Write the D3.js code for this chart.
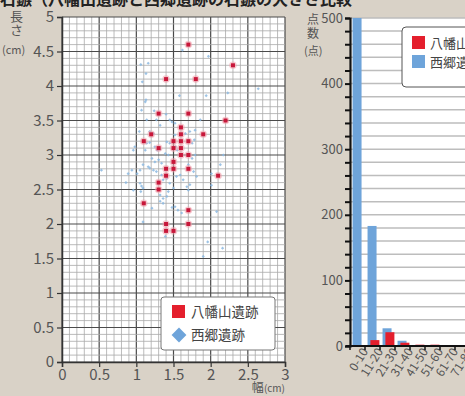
<!DOCTYPE html>
<html><head><meta charset="utf-8">
<script src="https://cdn.jsdelivr.net/npm/d3@7"></script>
<style>
body{margin:0;background:#d9d2c7;}
svg{display:block;}
text{font-family:"Noto Sans CJK JP","Noto Sans",sans-serif;}
</style></head>
<body>
<svg id="c" width="465" height="396"></svg>
<script>
// ---------- data ----------
const titleText = "石鏃（八幡山遺跡と西郷遺跡の石鏃の大きさ比較";
const seriesNames = ["八幡山遺跡", "西郷遺跡"];
const scatterXTicks = [0, 0.5, 1, 1.5, 2, 2.5, 3];
const scatterYTicks = [0, 0.5, 1, 1.5, 2, 2.5, 3, 3.5, 4, 4.5, 5];
// [width cm, length cm]
const hachimanPoints = [
  [1.7,4.6],[2.3,4.3],[1.4,4.1],[1.8,4.1],[1.3,3.6],[1.7,3.6],[2.2,3.5],[1.6,3.4],
  [1.2,3.3],[1.6,3.3],[1.9,3.3],[1.1,3.2],[1.5,3.2],[1.6,3.2],[1.7,3.2],[1.3,3.1],
  [1.5,3.1],[1.6,3.1],[1.6,3.0],[1.7,3.0],[1.5,2.9],[1.4,2.8],[1.5,2.8],[1.7,2.8],
  [1.4,2.7],[2.1,2.7],[1.3,2.6],[1.3,2.5],[1.1,2.3],[1.7,2.2],[1.4,2.0],[1.7,2.0],
  [1.4,1.9],[1.5,1.9]
];
const saigoPoints = [
  [1.62,4.52],[1.97,4.43],[1.16,4.33],[1.06,4.31],[1.13,4.18],[1.08,4.06],[2.64,3.96],[2.23,3.90],
  [1.58,3.86],[1.94,3.86],[1.13,3.80],[1.12,3.77],[1.07,3.65],[1.24,3.64],[1.40,3.59],
  [1.04,3.34],[0.98,3.12],[0.96,3.07],[1.14,3.17],[1.18,3.18],[1.25,3.12],[1.28,3.07],[1.32,3.08],
  [1.45,3.17],[1.41,3.19],[1.39,3.02],[1.43,3.00],[1.21,2.95],[1.25,2.90],[1.30,2.93],[1.34,2.88],
  [1.16,2.83],[1.18,2.81],[1.23,2.78],[1.27,2.76],[1.09,2.86],[1.05,2.78],[1.01,2.73],[0.94,2.78],
  [0.89,2.73],[0.53,2.78],[1.34,2.71],[1.36,2.64],[1.41,2.66],[1.45,2.59],[1.54,2.69],[1.59,2.71],
  [1.63,2.64],[1.70,2.86],[1.77,2.76],[1.81,2.69],[1.75,2.95],[1.79,3.00],[1.66,3.31],[1.72,3.34],
  [1.79,3.36],[1.52,3.29],[1.53,3.12],[1.55,3.07],[1.45,3.51],[1.48,3.48],[1.52,3.46],[1.27,3.51],
  [1.32,3.43],[1.18,3.34],[1.23,3.31],[1.14,3.51],[1.68,2.54],[1.72,2.57],[1.70,2.49],[1.50,2.52],
  [1.43,2.47],[1.41,2.40],[1.32,2.42],[1.36,2.37],[1.09,2.52],[1.05,2.59],[0.96,2.49],[1.75,3.17],
  [1.78,3.22],[1.86,3.51],[2.01,2.73],[1.56,2.20],[1.61,2.16],[1.52,2.25],[1.32,2.33],[1.36,2.30],
  [1.21,2.23],[1.48,2.24],[2.08,2.18],[2.01,2.56],[2.17,3.00],[2.13,2.86],[1.09,2.03],[1.39,1.82],
  [1.96,1.74],[2.16,1.65],[1.90,1.53],[0.86,2.60],[1.07,2.55],[1.06,2.47],[1.12,3.07],[1.30,3.10]
];
const barCategories = ["0-10","11-20","21-30","31-40","41-50","51-60","61-70","71-80"];
const barHachiman = [0, 9, 21, 5, 2, 2, 0, 0];
const barSaigo = [540, 183, 27, 8, 1, 1, 0, 0];
const barYTicks = [0, 100, 200, 300, 400, 500];

// ---------- drawing ----------
const svg = d3.select("#c");
const RED = "#e41f2d", BLUE = "#6ea4da", LABEL = "#555";

// title (cut off at top)
svg.append("text").attr("x", 0).attr("y", 5).attr("font-size", 16).attr("font-weight", "bold")
  .attr("fill", "#222").text(titleText);

// ===== scatter =====
const xS = d3.scaleLinear().domain([0, 3]).range([62, 285]);
const yS = d3.scaleLinear().domain([0, 5]).range([362, 17]);
const sc = svg.append("g");
sc.append("rect").attr("x", xS(0)).attr("y", yS(5)).attr("width", xS(3) - xS(0)).attr("height", yS(0) - yS(5)).attr("fill", "#fff");
const minorX = d3.range(0, 31).map(i => i / 10);
const minorY = d3.range(0, 51).map(i => i / 10);
const isHalf = v => Math.abs(v * 2 - Math.round(v * 2)) < 1e-6;
sc.selectAll(".gx").data(minorX).join("line")
  .attr("x1", d => xS(d)).attr("x2", d => xS(d)).attr("y1", yS(5)).attr("y2", yS(0))
  .attr("stroke", d => isHalf(d) ? "#4a4a4a" : "#a9a9a9").attr("stroke-width", d => isHalf(d) ? 1.2 : 0.8);
sc.selectAll(".gy").data(minorY).join("line")
  .attr("y1", d => yS(d)).attr("y2", d => yS(d)).attr("x1", xS(0)).attr("x2", xS(3))
  .attr("stroke", d => isHalf(d) ? "#4a4a4a" : "#a9a9a9").attr("stroke-width", d => isHalf(d) ? 1.2 : 0.8);

// axes
const ax = sc.append("g").attr("transform", `translate(${xS(0)},0)`)
  .call(d3.axisLeft(yS).tickValues(scatterYTicks).tickSize(5).tickPadding(3).tickFormat(d3.format("~g")));
const bx = sc.append("g").attr("transform", `translate(0,${yS(0)})`)
  .call(d3.axisBottom(xS).tickValues(scatterXTicks).tickSize(5).tickPadding(2).tickFormat(d3.format("~g")));
[ax, bx].forEach(g => {
  g.select(".domain").attr("stroke", "#333").attr("stroke-width", 1.5);
  g.selectAll(".tick line").attr("stroke", "#333").attr("stroke-width", 1.2);
  g.selectAll(".tick text").attr("font-size", 15).attr("fill", LABEL).style("font-family", '"Noto Sans CJK JP",sans-serif');
});

// points
const sg = sc.append("g");
sg.selectAll(".sp").data(saigoPoints).join("path")
  .attr("d", d3.symbol(d3.symbolSquare, 5))
  .attr("transform", d => `translate(${xS(d[0])},${yS(d[1])}) rotate(45)`)
  .attr("fill", "#8cb8e0").attr("opacity", 0.85);
sg.selectAll(".hh").data(hachimanPoints).join("circle")
  .attr("cx", d => xS(d[0])).attr("cy", d => yS(d[1])).attr("r", 3.8)
  .attr("fill", "#f3a0ac").attr("opacity", 0.55);
sg.selectAll(".hp").data(hachimanPoints).join("rect")
  .attr("x", d => xS(d[0]) - 2).attr("y", d => yS(d[1]) - 2).attr("width", 4).attr("height", 4)
  .attr("fill", "#c8173a");

// axis titles
svg.append("text").attr("x", 10).attr("y", 21).attr("font-size", 13).attr("fill", LABEL).text("長");
svg.append("text").attr("x", 10).attr("y", 35).attr("font-size", 13).attr("fill", LABEL).text("さ");
svg.append("text").attr("x", 2).attr("y", 54).attr("font-size", 11).attr("fill", LABEL).text("(cm)");
svg.append("text").attr("x", 285).attr("y", 392).attr("text-anchor", "end").attr("fill", LABEL)
  .call(t => { t.append("tspan").attr("font-size", 12).text("幅"); t.append("tspan").attr("font-size", 10).text("(cm)"); });

// scatter legend
const lg = svg.append("g");
lg.append("rect").attr("x", 161).attr("y", 297).attr("width", 114).attr("height", 53).attr("rx", 3)
  .attr("fill", "#fff").attr("stroke", "#777").attr("stroke-width", 1);
lg.append("rect").attr("x", 172).attr("y", 305).attr("width", 13).attr("height", 13).attr("fill", RED);
lg.append("path").attr("d", d3.symbol(d3.symbolSquare, 110)).attr("transform", "translate(179,335) rotate(45)").attr("fill", BLUE);
lg.append("text").attr("x", 191).attr("y", 317).attr("font-size", 13.5).attr("fill", "#444").text(seriesNames[0]);
lg.append("text").attr("x", 191).attr("y", 340).attr("font-size", 13.5).attr("fill", "#444").text(seriesNames[1]);

// ===== bar chart =====
const xB = d3.scaleBand().domain(barCategories).range([350, 350 + 15 * barCategories.length]).padding(0);
const yB = d3.scaleLinear().domain([0, 500]).range([346, 18]);
const bc = svg.append("g");
bc.append("rect").attr("x", 351).attr("y", yB(500)).attr("width", 120).attr("height", yB(0) - yB(500)).attr("fill", "#fff");
bc.selectAll(".bg").data(yB.ticks(25)).join("line")
  .attr("x1", 351).attr("x2", 470).attr("y1", d => yB(d)).attr("y2", d => yB(d))
  .attr("stroke", "#bdbdbd").attr("stroke-width", 1.5);
svg.append("clipPath").attr("id", "bclip").append("rect")
  .attr("x", 350).attr("y", yB(500)).attr("width", 130).attr("height", yB(0) - yB(500));
const bars = bc.append("g").attr("clip-path", "url(#bclip)");
const bw = xB.bandwidth();
bars.selectAll(".bs").data(barSaigo).join("rect")
  .attr("x", (d, i) => xB(barCategories[i]) + bw * 0.17).attr("width", bw * 0.6)
  .attr("y", d => yB(d)).attr("height", d => yB(0) - yB(d)).attr("fill", BLUE);
bars.selectAll(".bh").data(barHachiman).join("rect")
  .attr("x", (d, i) => xB(barCategories[i]) + bw * 0.36).attr("width", bw * 0.6)
  .attr("y", d => yB(d)).attr("height", d => yB(0) - yB(d)).attr("fill", RED);

// y axis
const yAx = bc.append("g").attr("transform", "translate(350,0)")
  .call(d3.axisLeft(yB).tickValues(d3.range(0, 501, 20)).tickSize(5).tickPadding(2)
    .tickFormat(d => barYTicks.includes(d) ? d : ""));
yAx.select(".domain").attr("stroke", "#111").attr("stroke-width", 2.2);
yAx.selectAll(".tick line").attr("stroke", "#111").attr("stroke-width", 2);
yAx.selectAll(".tick text").attr("font-size", 13).attr("fill", LABEL).style("font-family", '"Noto Sans CJK JP",sans-serif');

// x axis
const xAx = bc.append("g").attr("transform", `translate(0,${yB(0)})`)
  .call(d3.axisBottom(xB).tickSize(0).tickPadding(5));
xAx.select(".domain").remove();
xAx.append("line").attr("x1", 346).attr("x2", 470).attr("y1", 0).attr("y2", 0).attr("stroke", "#111").attr("stroke-width", 2.2);
xAx.selectAll(".bt").data(barCategories).join("line")
  .attr("x1", d => xB(d)).attr("x2", d => xB(d)).attr("y1", 0).attr("y2", 4)
  .attr("stroke", "#111").attr("stroke-width", 1.5);
xAx.selectAll(".tick text").attr("font-size", 12).attr("fill", LABEL)
  .style("font-family", '"Noto Sans CJK JP",sans-serif')
  .attr("text-anchor", "end").attr("dx", "0.1em").attr("dy", "0.6em")
  .attr("transform", "rotate(-58)");

// bar axis title
svg.append("text").attr("x", 307).attr("y", 24).attr("font-size", 12).attr("fill", LABEL).text("点");
svg.append("text").attr("x", 307).attr("y", 38).attr("font-size", 12).attr("fill", LABEL).text("数");
svg.append("text").attr("x", 304).attr("y", 55).attr("font-size", 11).attr("fill", LABEL).text("(点)");

// bar legend
const bl = svg.append("g");
bl.append("rect").attr("x", 402).attr("y", 27).attr("width", 90).attr("height", 60).attr("rx", 4)
  .attr("fill", "#fff").attr("stroke", "#555").attr("stroke-width", 1);
bl.append("rect").attr("x", 412).attr("y", 36).attr("width", 13).attr("height", 13).attr("fill", RED);
bl.append("rect").attr("x", 412).attr("y", 55).attr("width", 13).attr("height", 13).attr("fill", BLUE);
bl.append("text").attr("x", 430).attr("y", 48).attr("font-size", 13).attr("fill", "#444").text(seriesNames[0]);
bl.append("text").attr("x", 430).attr("y", 67).attr("font-size", 13).attr("fill", "#444").text(seriesNames[1]);
</script>
</body></html>
